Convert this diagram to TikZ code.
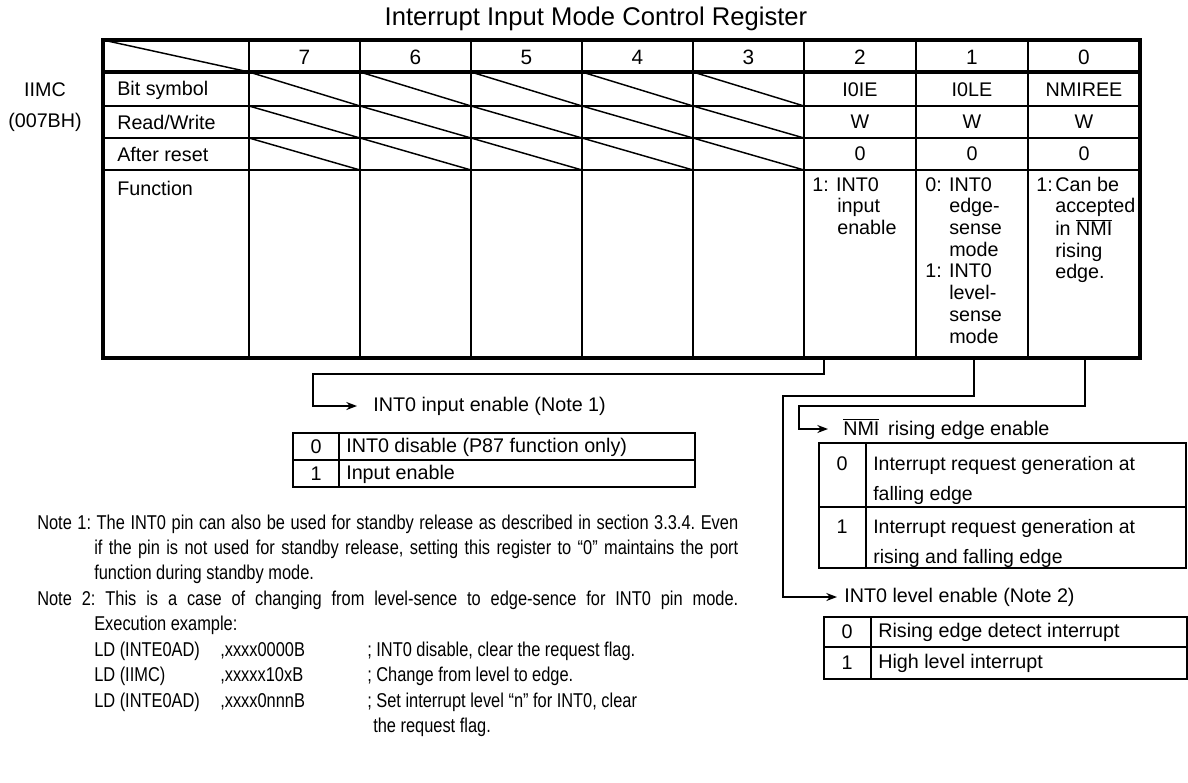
\documentclass[tikz,border=0pt]{standalone}
\usepackage{fontspec}
\setmainfont{Liberation Sans}
\newfontfamily\notefont[FakeStretch=0.82]{Liberation Sans}
\usetikzlibrary{arrows.meta}
\newcommand\ovl[1]{$\overline{\mbox{#1}}$}
\begin{document}
\begin{tikzpicture}[x=0.75pt,y=-0.75pt,
  txt/.style={inner sep=0pt, font=\fontsize{14.8pt}{16.3pt}\selectfont},
  hdr/.style={inner sep=0pt, font=\fontsize{15.6pt}{17pt}\selectfont},
  ttl/.style={inner sep=0pt, font=\fontsize{19.2pt}{21pt}\selectfont},
  wide/.style={inner sep=0pt, font=\fontsize{14.6pt}{22.5pt}\selectfont},
  thickline/.style={line width=3pt},
  thinline/.style={line width=1.4pt},
  diag/.style={line width=1.1pt},
  arr/.style={line width=1.2pt, -{Stealth[length=8pt,width=6pt]}},
  sub/.style={line width=1.6pt},
]
\useasboundingbox (0,0) rectangle (1188,782);

% title
\node[ttl] (title) at (596,19) {Interrupt Input Mode Control Register};

% grid
\foreach \x in {249,360,471,582,693,804,916,1028}
  \draw[thinline] (\x,40) -- (\x,358);
\foreach \y in {106,138,170}
  \draw[thinline] (103,\y) -- (1140,\y);
\draw[thickline] (103,72) -- (1140,72);
\draw[thickline] (103,40) rectangle (1140,358);
\draw[diag] (103,40) -- (249,72);
\foreach \xa/\xb in {249/360,360/471,471/582,582/693,693/804}
  \foreach \ya/\yb in {72/106,106/138,138/170}
    \draw[diag] (\xa,\ya) -- (\xb,\yb);

% header digits
\node[hdr] (h7) at (304.5,57) {7};
\node[hdr] (h6) at (415.5,57) {6};
\node[hdr] (h5) at (526.5,57) {5};
\node[hdr] (h4) at (637.5,57) {4};
\node[hdr] (h3) at (748.5,57) {3};
\node[hdr] (h2) at (860,57) {2};
\node[hdr] (h1) at (972,57) {1};
\node[hdr] (h0) at (1084,57) {0};

% left labels
\node[txt] (iimc) at (45,90) {IIMC};
\node[txt] (addr) at (45,122) {(007BH)};
\node[txt, anchor=west] (lbs) at (117,90) {Bit symbol};
\node[txt, anchor=west] (lrw) at (117,122) {Read/Write};
\node[txt, anchor=west] (lar) at (117,154) {After reset};
\node[txt, anchor=west] (lfn) at (117,188) {Function};

% values
\node[txt] (s2) at (860,90) {I0IE};
\node[txt] (s1) at (972,90) {I0LE};
\node[txt] (s0) at (1084,90) {NMIREE};
\node[txt] (w2) at (860,122) {W};
\node[txt] (w1) at (972,122) {W};
\node[txt] (w0) at (1084,122) {W};
\node[txt] (r2) at (860,154) {0};
\node[txt] (r1) at (972,154) {0};
\node[txt] (r0) at (1084,154) {0};

% function texts
\node[txt, anchor=base west] (f2) at (812,191)
  {\begin{tabular}[t]{@{}l@{}}1: INT0\\\hspace*{18.75pt}input\\\hspace*{18.75pt}enable\end{tabular}};
\node[txt, anchor=base west] (f1) at (925,191)
  {\begin{tabular}[t]{@{}l@{}}0: INT0\\\hspace*{18pt}edge-\\\hspace*{18pt}sense\\\hspace*{18pt}mode\\1: INT0\\\hspace*{18pt}level-\\\hspace*{18pt}sense\\\hspace*{18pt}mode\end{tabular}};
\node[txt, anchor=base west] (f0) at (1036,191)
  {\begin{tabular}[t]{@{}l@{}}1:\hspace*{2pt}Can be\\\hspace*{14.25pt}accepted\\\hspace*{14.25pt}in \ovl{NMI}\\\hspace*{14.25pt}rising\\\hspace*{14.25pt}edge.\end{tabular}};

% connector end points
\coordinate (b2) at (824,358);
\coordinate (b1) at (974,358);
\coordinate (b0) at (1085,358);

% INT0 input enable
\node[txt, anchor=west] (lint) at (373,406) {INT0 input enable (Note 1)};
\draw[arr] (b2) |- (313,374) |- ([xshift=-12pt]lint.west);
\draw[sub] (293,433) rectangle (695,487);
\draw[sub] (293,460) -- (695,460);
\draw[sub] (339,433) -- (339,487);
\node[txt] (i0) at (316,447) {0};
\node[txt] (i1) at (316,474) {1};
\node[txt, anchor=west] (it0) at (346,447) {INT0 disable (P87 function only)};
\node[txt, anchor=west] (it1) at (346,474) {Input enable};

% NMI rising edge enable
\node[txt, anchor=west] (lnmi) at (843,429) {\ovl{NMI}\ \,rising edge enable};
\draw[arr] (b0) |- (799,406) |- ([xshift=-11.25pt]lnmi.west);
\draw[sub] (819,443) rectangle (1186,568);
\draw[sub] (819,507) -- (1186,507);
\draw[sub] (866,443) -- (866,568);
\node[txt] (n0) at (842,464) {0};
\node[txt] (n1) at (842,527) {1};
\node[wide, anchor=base west] (nt0) at (873,470)
  {\begin{tabular}[t]{@{}l@{}}Interrupt request generation at\\falling edge\end{tabular}};
\node[wide, anchor=base west] (nt1) at (873,533)
  {\begin{tabular}[t]{@{}l@{}}Interrupt request generation at\\rising and falling edge\end{tabular}};

% INT0 level enable
\node[txt, anchor=west] (llvl) at (844,597) {INT0 level enable (Note 2)};
\draw[arr] (b1) |- (783,396) |- ([xshift=-5.25pt]llvl.west);
\draw[sub] (824,617) rectangle (1187,679);
\draw[sub] (824,647) -- (1187,647);
\draw[sub] (871,617) -- (871,679);
\node[txt] (v0) at (847,632) {0};
\node[txt] (v1) at (847,663) {1};
\node[txt, anchor=west] (vt0) at (878,632) {Rising edge detect interrupt};
\node[txt, anchor=west] (vt1) at (878,663) {High level interrupt};

% notes
\node[inner sep=0pt, anchor=base west] (notes) at (37,529)
 {\parbox[t]{525.75pt}{\notefont\fontsize{15pt}{19.1pt}\selectfont\parindent=0pt\frenchspacing
  \hangindent=42.75pt\hangafter=1
  Note 1: The INT0 pin can also be used for standby release as described in section 3.3.4. Even\linebreak
  if the pin is not used for standby release, setting this register to “0” maintains the port\linebreak
  function during standby mode.\par
  \makebox[\linewidth][s]{Note 2: This is a case of changing from level-sence to edge-sence for INT0 pin mode.}\par
  \hspace*{42.75pt}Execution example:\par
  \hspace*{42.75pt}\makebox[94.5pt][l]{LD (INTE0AD)}\makebox[110.25pt][l]{,xxxx0000B}; INT0 disable, clear the request flag.\par
  \hspace*{42.75pt}\makebox[94.5pt][l]{LD (IIMC)}\makebox[110.25pt][l]{,xxxxx10xB}; Change from level to edge.\par
  \hspace*{42.75pt}\makebox[94.5pt][l]{LD (INTE0AD)}\makebox[110.25pt][l]{,xxxx0nnnB}; Set interrupt level “n” for INT0, clear\par
  \hspace*{252pt}the request flag.}};
\end{tikzpicture}
\end{document}
